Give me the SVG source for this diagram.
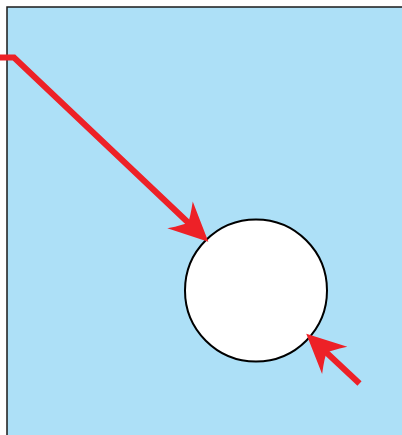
<svg xmlns="http://www.w3.org/2000/svg" width="402" height="435" viewBox="0 0 402 435">
<style>
.conn{fill:none;stroke:#ED2127;stroke-width:6;stroke-linejoin:miter;marker-end:url(#ah)}
</style>
<defs>
<marker id="ah" markerUnits="userSpaceOnUse" markerWidth="80" markerHeight="80" refX="0" refY="0" orient="auto" overflow="visible" viewBox="-40 -40 80 80">
<path d="M25,0 L-14,-18.5 Q-4,-4 -3,0 Q-4,4 -14,18.5 Z" fill="#ED2127"/>
</marker>
</defs>
<g id="tank">
<rect x="7" y="7" width="420" height="450" fill="#ADE0F7" stroke="#1a1a1a" stroke-width="1.5"/>
</g>
<g id="ball">
<circle cx="256" cy="290.5" r="71" fill="#FFFFFF" stroke="#000" stroke-width="2"/>
</g>
<g id="connectors">
<path class="conn" d="M0,57.5 L14,57.5 L190.2,224.5"/>
<path class="conn" d="M359.5,383.5 L324.5,350.8"/>
</g>
</svg>
